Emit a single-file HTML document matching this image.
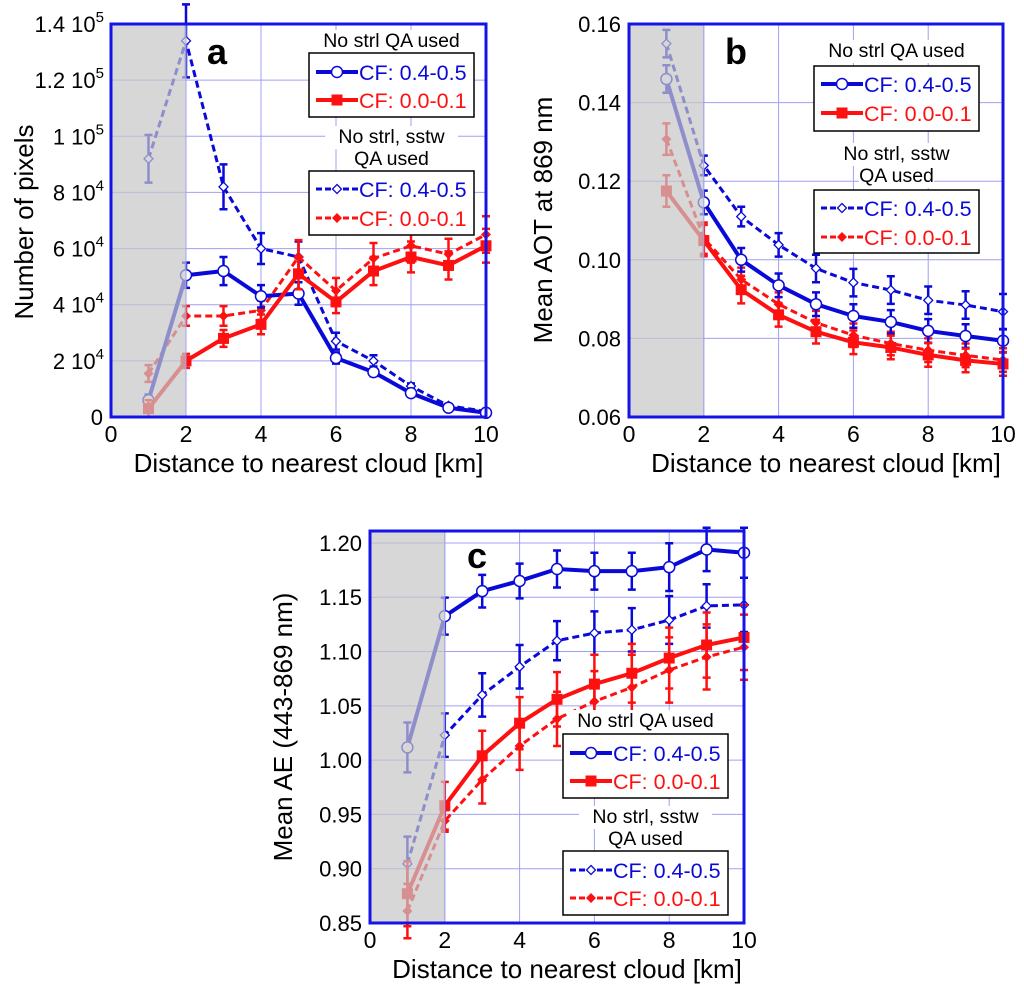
<!DOCTYPE html>
<html><head><meta charset="utf-8"><style>
html,body{margin:0;padding:0;background:#fff;}
svg{display:block;font-family:"Liberation Sans",Arial,sans-serif;}
</style></head><body>
<svg id="fig" width="1024" height="991" viewBox="0 0 1024 991" xmlns="http://www.w3.org/2000/svg"></svg>
<script>
// ---- data ----
const distances = [1,2,3,4,5,6,7,8,9,10];
// Panel a (units of 1e4 pixels)
const aBlueSolid = [0.6,5.05,5.2,4.3,4.4,2.1,1.6,0.85,0.33,0.15];
const aRedSolid  = [0.3,2.0,2.8,3.3,5.1,4.1,5.2,5.7,5.4,6.1];
const aBlueDash  = [9.2,13.4,8.2,6.0,5.7,2.7,2.0,1.1,0.4,0.2];
const aRedDash   = [1.55,3.6,3.6,3.8,5.7,4.5,5.65,6.1,5.8,6.5];
const aBlueSolidErr = [0.2,0.45,0.5,0.4,0.4,0.2,0.15,0.1,0.05,0.03];
const aRedSolidErr  = [0.3,0.25,0.3,0.35,0.55,0.4,0.5,0.55,0.5,0.6];
const aBlueDashErr  = [0.85,1.3,0.8,0.55,0.55,0.3,0.2,0.1,0.05,0.03];
const aRedDashErr   = [0.3,0.35,0.35,0.35,0.6,0.45,0.55,0.6,0.55,0.65];
const aTicks = ["0","2 10^4","4 10^4","6 10^4","8 10^4","1 10^5","1.2 10^5","1.4 10^5"];
// Panel b
const bBlueSolid = [0.146,0.1146,0.100,0.0935,0.0887,0.0857,0.0842,0.0819,0.0806,0.0794];
const bRedSolid  = [0.1175,0.1049,0.0924,0.0860,0.0817,0.0790,0.0777,0.0758,0.0744,0.0735];
const bBlueDash  = [0.155,0.124,0.111,0.1038,0.0978,0.0942,0.0923,0.0897,0.0885,0.0868];
const bRedDash   = [0.1307,0.1055,0.095,0.0887,0.084,0.0808,0.0787,0.077,0.0757,0.0745];
const bBlueSolidErr = [0.0035,0.003,0.003,0.003,0.003,0.003,0.003,0.003,0.003,0.003];
const bRedSolidErr  = [0.004,0.004,0.0035,0.003,0.003,0.003,0.003,0.003,0.003,0.003];
const bBlueDashErr  = [0.0035,0.0025,0.0025,0.003,0.0035,0.0035,0.0035,0.0035,0.0035,0.0045];
const bRedDashErr   = [0.004,0.004,0.003,0.003,0.003,0.003,0.003,0.003,0.003,0.003];
const bTicks = ["0.06","0.08","0.10","0.12","0.14","0.16"];
// Panel c
const cBlueSolid = [1.0117,1.1326,1.1556,1.165,1.176,1.174,1.174,1.1777,1.194,1.191];
const cRedSolid  = [0.877,0.958,1.004,1.034,1.056,1.070,1.080,1.094,1.106,1.113];
const cBlueDash  = [0.9045,1.023,1.060,1.086,1.110,1.117,1.120,1.129,1.142,1.143];
const cRedDash   = [0.861,0.944,0.982,1.013,1.038,1.054,1.067,1.083,1.095,1.104];
const cBlueSolidErr = [0.023,0.017,0.015,0.016,0.017,0.017,0.017,0.022,0.02,0.023];
const cRedSolidErr  = [0.03,0.022,0.023,0.024,0.025,0.027,0.027,0.028,0.03,0.03];
const cBlueDashErr  = [0.025,0.02,0.02,0.02,0.018,0.02,0.02,0.022,0.02,0.025];
const cRedDashErr   = [0.025,0.01,0.022,0.022,0.025,0.028,0.03,0.03,0.03,0.03];
const cTicks = ["0.85","0.90","0.95","1.00","1.05","1.10","1.15","1.20"];
const xTicks = ["0","2","4","6","8","10"];

const NS="http://www.w3.org/2000/svg";
const svg=document.getElementById('fig');
function mk(tag,attrs,parent){const e=document.createElementNS(NS,tag);for(const k in attrs)e.setAttribute(k,attrs[k]);(parent||svg).appendChild(e);return e;}
const BLUE="#0a0ad8", RED="#ff1010", AXIS="#1414e6", GRID="#a0a0f0";

function panel(p){
  const g=mk('g',{});
  
  
  const xs=v=>p.L+(v/10)*(p.R-p.L);
  const ys=v=>p.B-(v-p.ymin)/(p.ymax-p.ymin)*(p.B-p.T);
  for(let i=0;i<=10;i+=2){const l=mk('line',{x1:xs(i),x2:xs(i),y1:p.T,y2:p.B,stroke:GRID,'stroke-width':1},g);}
  p.tickVals.forEach(v=>{const l=mk('line',{x1:p.L,x2:p.R,y1:ys(v),y2:ys(v),stroke:GRID,'stroke-width':1},g);});
  const series=[
    {d:p.blueDash,e:p.blueDashErr,c:BLUE,dash:true,m:'odiamond',n:'series-blue-dashed'},
    {d:p.redDash,e:p.redDashErr,c:RED,dash:true,m:'diamond',n:'series-red-dashed'},
    {d:p.blueSolid,e:p.blueSolidErr,c:BLUE,dash:false,m:'circle',n:'series-blue-solid'},
    {d:p.redSolid,e:p.redSolidErr,c:RED,dash:false,m:'square',n:'series-red-solid'}];
  series.forEach(s=>{
    const sg=mk('g',{},g);
    
    
    const pts=distances.map((x,i)=>xs(x)+','+ys(s.d[i])).join(' ');
    const pl=mk('polyline',{points:pts,fill:'none',stroke:s.c,'stroke-width':s.dash?3:4,'stroke-dasharray':s.dash?'7,4':'none','stroke-linejoin':'round'},sg);
    
    distances.forEach((x,i)=>{
      const cx=xs(x),cy=ys(s.d[i]),e=s.e[i];
      const eb=mk('path',{d:`M${cx},${ys(s.d[i]-e)}V${ys(s.d[i]+e)}M${cx-4},${ys(s.d[i]-e)}h8M${cx-4},${ys(s.d[i]+e)}h8`,stroke:s.c,'stroke-width':2.5,fill:'none'},sg);
      
      let m;
      if(s.m==='circle') m=mk('circle',{cx,cy,r:5.5,fill:'#fff','stroke':s.c,'stroke-width':1.5},sg);
      else if(s.m==='square') m=mk('rect',{x:cx-5.5,y:cy-5.5,width:11,height:11,fill:s.c},sg);
      else if(s.m==='diamond') m=mk('path',{d:`M${cx},${cy-5}L${cx+5},${cy}L${cx},${cy+5}L${cx-5},${cy}Z`,fill:s.c},sg);
      else m=mk('path',{d:`M${cx},${cy-4.5}L${cx+4.5},${cy}L${cx},${cy+4.5}L${cx-4.5},${cy}Z`,fill:'#fff',stroke:s.c,'stroke-width':1.3},sg);
      
    });
  });
  const band=mk('rect',{x:p.L,y:p.T,width:xs(2)-p.L,height:p.B-p.T,fill:'#c6c6c6','fill-opacity':0.7},g);
  
  const bl=mk('line',{x1:xs(2),x2:xs(2),y1:p.T,y2:p.B,stroke:GRID,'stroke-width':1},g);
  
  const fr=mk('rect',{x:p.L,y:p.T,width:p.R-p.L,height:p.B-p.T,fill:'none',stroke:AXIS,'stroke-width':3},g);
  
  xTicks.forEach((t,i)=>{const tx=mk('text',{x:xs(+t),y:p.B+25,'text-anchor':'middle','font-size':23,fill:'#000'},g);tx.textContent=t;});
  const xt=mk('text',{x:(p.L+p.R)/2+10,y:p.B+55,'text-anchor':'middle','font-size':26,fill:'#000'},g);
  xt.textContent='Distance to nearest cloud [km]';
  p.tickLabels.forEach((t,i)=>{
    const tx=mk('text',{x:p.L-8,y:ys(p.tickVals[i])+8,'text-anchor':'end','font-size':22,fill:'#000'},g);
    
    if(t.includes('^')){const [a,b]=t.split('^');tx.textContent=a;const sp=mk('tspan',{'font-size':15,dy:-10},tx);sp.textContent=b;tx.setAttribute('x',p.L-7);}
    else tx.textContent=t;
  });
  const yt=mk('text',{x:0,y:0,'text-anchor':'middle','font-size':26,fill:'#000',transform:`translate(${p.yTitleX},${p.yTitleY}) rotate(-90)`},g);
  yt.textContent=p.yTitle;
  const lt=mk('text',{x:p.letterX,y:p.letterY,'font-size':36,'font-weight':'bold',fill:'#000'},g);
  lt.textContent=p.letter;
  const lg=p.leg, bx1=lg.x1, bx2=lg.x2, cx=(bx1+bx2)/2;
  function title(txt,y){
    const w=txt.length*9.6;
    const r=mk('rect',{x:cx-w/2-4,y:y-17,width:w+8,height:23,fill:'#fff'},g);
    
    const t=mk('text',{x:cx,y:y,'text-anchor':'middle','font-size':19.5,fill:'#000'},g);
    t.textContent=txt;
  }
  function box(y1,y2,ents){
    const r=mk('rect',{x:bx1,y:y1,width:bx2-bx1,height:y2-y1,fill:'#fff',stroke:'#000','stroke-width':1.5},g);
    
    ents.forEach(en=>{
      const eg=mk('g',{},g);
      mk('line',{x1:bx1+7,x2:bx1+49,y1:en.y,y2:en.y,stroke:en.c,'stroke-width':en.dash?3:4,'stroke-dasharray':en.dash?'6,3':'none'},eg);
      const mx=bx1+28,my=en.y;
      if(en.m==='circle')mk('circle',{cx:mx,cy:my,r:5.5,fill:'#fff',stroke:en.c,'stroke-width':1.5},eg);
      else if(en.m==='square')mk('rect',{x:mx-5.5,y:my-5.5,width:11,height:11,fill:en.c},eg);
      else if(en.m==='diamond')mk('path',{d:`M${mx},${my-5}L${mx+5},${my}L${mx},${my+5}L${mx-5},${my}Z`,fill:en.c},eg);
      else mk('path',{d:`M${mx},${my-4.5}L${mx+4.5},${my}L${mx},${my+4.5}L${mx-4.5},${my}Z`,fill:'#fff',stroke:en.c,'stroke-width':1.3},eg);
      const t=mk('text',{x:bx1+50,y:en.y+8,'font-size':21.5,fill:en.c},eg);t.textContent=en.t;
    });
  }
  title('No strl QA used',lg.t1);
  box(lg.b1a,lg.b1b,[{y:lg.e1,c:BLUE,m:'circle',t:'CF: 0.4-0.5'},{y:lg.e2,c:RED,m:'square',t:'CF: 0.0-0.1'}]);
  title('No strl, sstw',lg.t2);
  title('QA used',lg.t3);
  box(lg.b2a,lg.b2b,[{y:lg.e3,c:BLUE,dash:true,m:'odiamond',t:'CF: 0.4-0.5'},{y:lg.e4,c:RED,dash:true,m:'diamond',t:'CF: 0.0-0.1'}]);
}

panel({name:'panel-a-pixel-count',L:111,R:486,T:24,B:417,ymin:0,ymax:14,
  tickVals:[0,2,4,6,8,10,12,14],tickLabels:aTicks,
  blueSolid:aBlueSolid,redSolid:aRedSolid,blueDash:aBlueDash,redDash:aRedDash,
  blueSolidErr:aBlueSolidErr,redSolidErr:aRedSolidErr,blueDashErr:aBlueDashErr,redDashErr:aRedDashErr,
  yTitle:'Number of pixels',yTitleX:33,yTitleY:222,letter:'a',letterX:207,letterY:64,
  leg:{x1:309,x2:474,t1:47,b1a:53,b1b:117,e1:72,e2:100,t2:143,t3:165,b2a:171,b2b:235,e3:189,e4:218}});
panel({name:'panel-b-mean-aot',L:629,R:1003,T:24,B:417,ymin:0.06,ymax:0.16,
  tickVals:[0.06,0.08,0.10,0.12,0.14,0.16],tickLabels:bTicks,
  blueSolid:bBlueSolid,redSolid:bRedSolid,blueDash:bBlueDash,redDash:bRedDash,
  blueSolidErr:bBlueSolidErr,redSolidErr:bRedSolidErr,blueDashErr:bBlueDashErr,redDashErr:bRedDashErr,
  yTitle:'Mean AOT at 869 nm',yTitleX:552,yTitleY:220,letter:'b',letterX:725,letterY:64,
  leg:{x1:814,x2:979,t1:57,b1a:66,b1b:131,e1:84,e2:113,t2:160,t3:182,b2a:190,b2b:253,e3:208,e4:237}});
panel({name:'panel-c-mean-ae',L:370,R:744,T:531,B:923,ymin:0.85,ymax:1.211,
  tickVals:[0.85,0.90,0.95,1.00,1.05,1.10,1.15,1.20],tickLabels:cTicks,
  blueSolid:cBlueSolid,redSolid:cRedSolid,blueDash:cBlueDash,redDash:cRedDash,
  blueSolidErr:cBlueSolidErr,redSolidErr:cRedSolidErr,blueDashErr:cBlueDashErr,redDashErr:cRedDashErr,
  yTitle:'Mean AE (443-869 nm)',yTitleX:292,yTitleY:727,letter:'c',letterX:467,letterY:568,
  leg:{x1:563,x2:728,t1:727,b1a:734,b1b:798,e1:753,e2:781,t2:823,t3:845,b2a:851,b2b:915,e3:870,e4:898}});
</script>
</body></html>
